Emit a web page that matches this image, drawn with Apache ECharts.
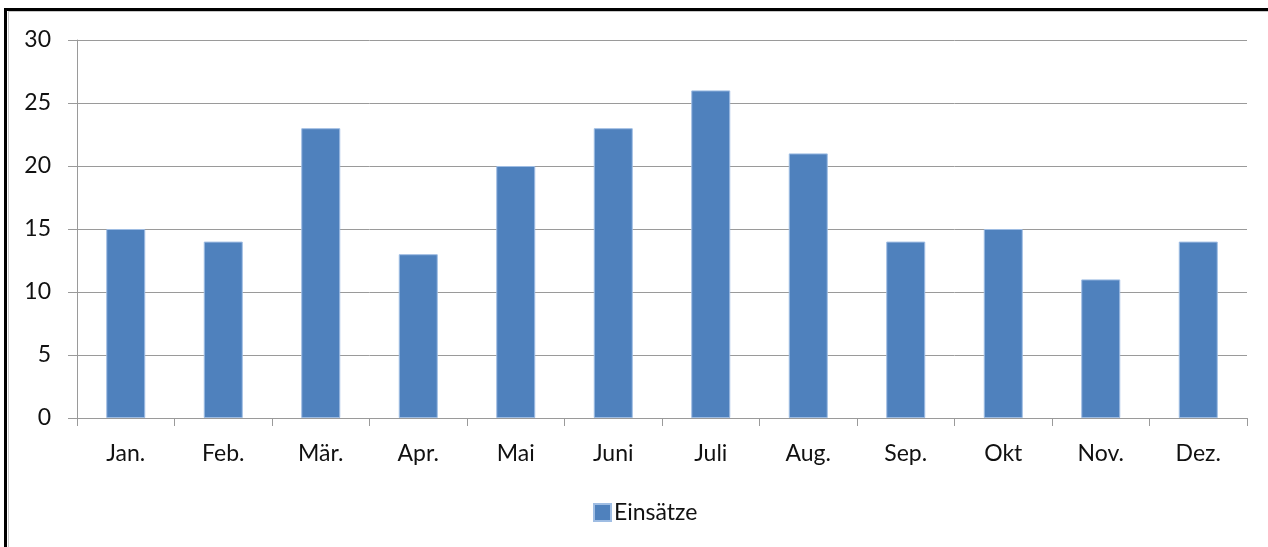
<!DOCTYPE html>
<html>
<head>
<meta charset="utf-8">
<script src="https://cdn.jsdelivr.net/npm/echarts@6/dist/echarts.min.js"></script>
<style>
  html, body { margin: 0; padding: 0; background: #fff; }
  #chart { width: 1268px; height: 547px; position: absolute; left: 0; top: 0; }
  #frameTop { position: absolute; left: 4px; top: 8px; width: 1264px; height: 3px; background: #000; }
  #frameTop2 { position: absolute; left: 8px; top: 11px; width: 1260px; height: 1px; background: #c8c8c8; }
  #frameLeft { position: absolute; left: 4px; top: 8px; width: 3px; height: 539px; background: #000; }
  #frameLeft2 { position: absolute; left: 8px; top: 11px; width: 1px; height: 536px; background: #c8c8c8; }
</style>
</head>
<body>
<div id="chart"></div>
<div id="frameTop"></div>
<div id="frameTop2"></div>
<div id="frameLeft"></div>
<div id="frameLeft2"></div>
<script>
const categories = ['Jan.', 'Feb.', 'Mär.', 'Apr.', 'Mai', 'Juni', 'Juli', 'Aug.', 'Sep.', 'Okt', 'Nov.', 'Dez.'];
const einsaetze = [15, 14, 23, 13, 20, 23, 26, 21, 14, 15, 11, 14];
const seriesName = 'Einsätze';

const FONT = 'Lato, "Open Sans", sans-serif';
const chart = echarts.init(document.getElementById('chart'), null, { renderer: 'canvas' });
chart.setOption({
  animation: false,
  backgroundColor: '#fff',
  grid: { left: 77, right: 21, top: 40, bottom: 129, containLabel: false },
  legend: {
    data: [seriesName],
    left: 588, top: 496,
    icon: 'rect', itemWidth: 17, itemHeight: 17, itemGap: 6,
    textStyle: { fontFamily: FONT, fontSize: 23, color: '#111', padding: [0, 0, 0, -2] }
  },
  xAxis: {
    type: 'category',
    data: categories,
    axisLine: { lineStyle: { color: '#9a9a9a', width: 1 } },
    axisTick: { show: true, alignWithLabel: false, length: 8, lineStyle: { color: '#9a9a9a' } },
    axisLabel: { fontFamily: FONT, fontSize: 23, color: '#111', margin: 24 },
    splitLine: { show: false }
  },
  yAxis: {
    type: 'value',
    min: 0, max: 30, interval: 5,
    axisLine: { show: true, lineStyle: { color: '#9a9a9a', width: 1 } },
    axisTick: { show: true, length: 9, lineStyle: { color: '#9a9a9a' } },
    axisLabel: { fontFamily: FONT, fontSize: 23, color: '#111', margin: 26 },
    splitLine: { show: true, lineStyle: { color: '#9a9a9a', width: 1 } }
  },
  series: [{
    name: seriesName,
    type: 'bar',
    data: einsaetze,
    barWidth: '40%',
    barCategoryGap: '60%',
    itemStyle: { color: '#4f81bd', borderColor: '#9fbde3', borderWidth: 1 }
  }]
});
</script>
</body>
</html>
